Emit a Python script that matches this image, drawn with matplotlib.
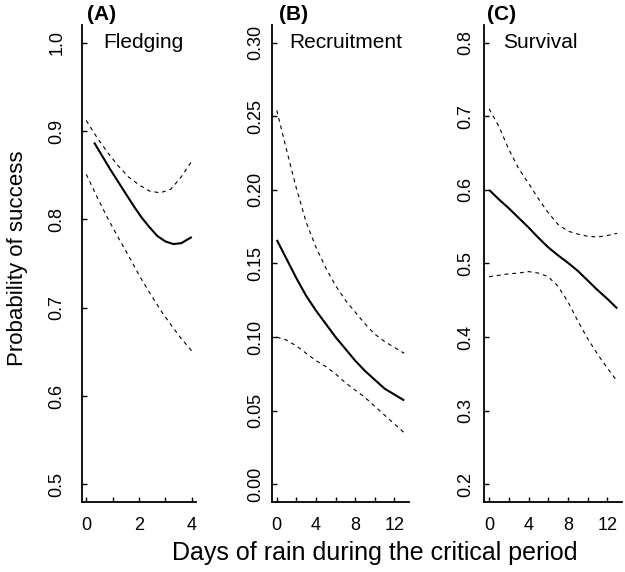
import matplotlib
matplotlib.use('Agg')
import matplotlib.pyplot as plt
import numpy as np

plt.rcParams['font.family'] = ['Liberation Sans', 'DejaVu Sans']

# panel A: fledging (days 0-4)
fledge_x = [0, 0.4, 0.8, 1.2, 1.6, 2.0, 2.4, 2.8, 3.2, 3.6, 4.0]
fledge_hi = [0.912, 0.893, 0.876, 0.861, 0.848, 0.839, 0.832, 0.830, 0.834, 0.848, 0.866]
fledge_lo = [0.851, 0.826, 0.802, 0.780, 0.759, 0.737, 0.717, 0.698, 0.681, 0.665, 0.651]
fledge_fit_x = [0.3, 0.6, 0.9, 1.2, 1.5, 1.8, 2.1, 2.4, 2.7, 3.0, 3.3, 3.6, 4.0]
fledge_fit = [0.887, 0.872, 0.857, 0.843, 0.829, 0.815, 0.802, 0.791, 0.781,
              0.775, 0.772, 0.773, 0.780]

# panel B: recruitment (days 0-13)
recr_x = list(range(14))
recr_fit = [0.166, 0.153, 0.140, 0.128, 0.118, 0.109, 0.100, 0.092, 0.084,
            0.077, 0.071, 0.065, 0.061, 0.057]
recr_hi = [0.254, 0.227, 0.201, 0.178, 0.161, 0.147, 0.135, 0.125, 0.117,
           0.109, 0.102, 0.097, 0.093, 0.089]
recr_lo = [0.100, 0.098, 0.094, 0.089, 0.084, 0.080, 0.075, 0.069, 0.064,
           0.059, 0.053, 0.047, 0.041, 0.035]

# panel C: survival (days 0-13)
surv_x = list(range(14))
surv_fit = [0.600, 0.587, 0.575, 0.562, 0.549, 0.535, 0.522, 0.511, 0.501,
            0.490, 0.477, 0.464, 0.452, 0.439]
surv_hi = [0.710, 0.686, 0.655, 0.629, 0.609, 0.588, 0.569, 0.553, 0.544,
           0.540, 0.537, 0.536, 0.538, 0.541]
surv_lo = [0.482, 0.484, 0.486, 0.487, 0.489, 0.487, 0.482, 0.469, 0.448,
           0.422, 0.398, 0.377, 0.358, 0.340]

W, H = 625, 572
fig = plt.figure(figsize=(W / 100, H / 100), dpi=100)

def px_axes(left, right, top=25, bottom=502):
  return fig.add_axes([left / W, 1 - bottom / H, (right - left) / W, (bottom - top) / H])

panels = [
  dict(l=82, r=196, xlim=(-0.16, 4.16), ylim=(0.48, 1.02),
       yt=np.arange(0.5, 1.01, 0.1), yfmt='%.1f', xt=[0, 1, 2, 3, 4],
       xl=['0', '', '2', '', '4'], pad=11.9, name='Fledging', nx=0.64, ny=1.0,
       tag='(A)', tx=87,
       x=fledge_x, fx=fledge_fit_x, fit=fledge_fit, hi=fledge_hi, lo=fledge_lo),
  dict(l=271.7, r=409.3, xlim=(-0.52, 13.52), ylim=(-0.012, 0.312),
       yt=np.arange(0, 0.301, 0.05), yfmt='%.2f', xt=list(range(0, 13, 2)),
       xl=['0', '', '4', '', '8', '', '12'], pad=5.7, name='Recruitment',
       nx=1.26, ny=0.30, tag='(B)', tx=279,
       x=recr_x, fx=recr_x, fit=recr_fit, hi=recr_hi, lo=recr_lo),
  dict(l=484, r=622.3, xlim=(-0.52, 13.52), ylim=(0.176, 0.824),
       yt=np.arange(0.2, 0.801, 0.1), yfmt='%.1f', xt=list(range(0, 13, 2)),
       xl=['0', '', '4', '', '8', '', '12'], pad=7.3, name='Survival',
       nx=1.44, ny=0.8, tag='(C)', tx=487,
       x=surv_x, fx=surv_x, fit=surv_fit, hi=surv_hi, lo=surv_lo),
]

for p in panels:
  ax = px_axes(p['l'], p['r'])
  ax.plot(p['fx'], p['fit'], color='black', lw=1.5, solid_capstyle='butt')
  ax.plot(p['x'], p['hi'], color='black', lw=0.8, linestyle=(0, (3.5, 3.5)))
  ax.plot(p['x'], p['lo'], color='black', lw=0.8, linestyle=(0, (3.5, 3.5)))
  ax.set_xlim(*p['xlim'])
  ax.set_ylim(*p['ylim'])
  ax.set_yticks(p['yt'])
  ax.set_yticklabels([p['yfmt'] % v for v in p['yt']], rotation=90, va='center')
  ax.set_xticks(p['xt'])
  ax.set_xticklabels(p['xl'])
  for s in ['top', 'right']:
    ax.spines[s].set_visible(False)
  for s in ['left', 'bottom']:
    ax.spines[s].set_linewidth(1.3)
  ax.tick_params(axis='both', direction='in', length=3.6, width=1.0, labelsize=13)
  ax.tick_params(axis='y', pad=p['pad'])
  ax.tick_params(axis='x', pad=10.5)
  ax.text(p['nx'], p['ny'], p['name'], fontsize=15, ha='left', va='center')
  fig.text(p['tx'] / W, 1 - 14 / H, p['tag'], fontsize=15, fontweight='bold',
           ha='left', va='center')

fig.text(18 / W, 1 - 258 / H, 'Probability of success', rotation=90,
         fontsize=16, ha='center', va='center')
fig.text(375 / W, 1 - 553 / H, 'Days of rain during the critical period',
         fontsize=18, ha='center', va='center')

fig.savefig('out.png', dpi=100)
